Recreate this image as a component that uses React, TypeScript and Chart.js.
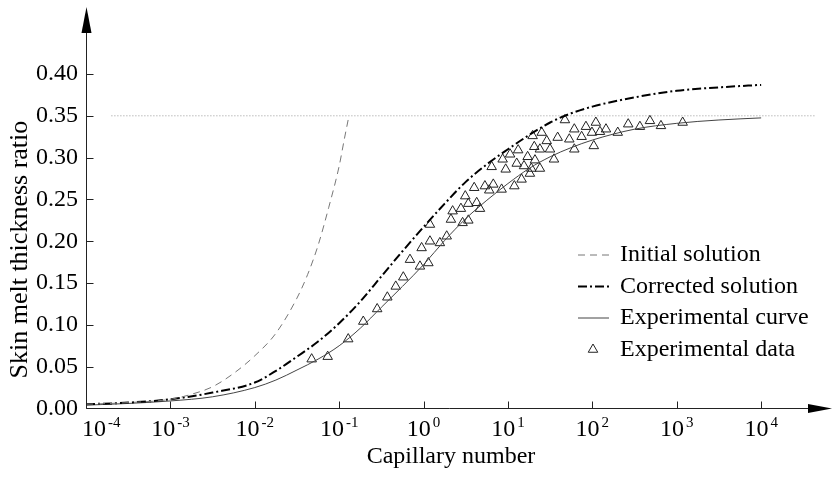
import React, { useEffect, useRef } from 'react';
import { Chart, registerables } from 'chart.js';

Chart.register(...registerables);

// ---------- data ----------
const xMin = 0.0001;
const xMax = 44668; // axis runs a little past 10^4 toward the arrow
const yMin = -0.02;
const yMax = 0.4;
const yTickValues = [0, 0.05, 0.1, 0.15, 0.2, 0.25, 0.3, 0.35, 0.4];
const xDecades = [-4, -3, -2, -1, 0, 1, 2, 3, 4];

const initialX = [0.0001, 0.000316, 0.001, 0.00178, 0.00316, 0.00562, 0.01, 0.0178, 0.0316, 0.0422, 0.0562, 0.075, 0.1, 0.115, 0.1306];
const initialY = [0.005, 0.007, 0.011, 0.017, 0.026, 0.042, 0.063, 0.090, 0.132, 0.160, 0.195, 0.240, 0.290, 0.322, 0.350];

const correctedX = [0.0001, 0.000316, 0.001, 0.00316, 0.01, 0.0178, 0.0316, 0.0562, 0.1, 0.178, 0.316, 0.562, 1, 1.78, 3.16, 5.62, 10, 17.8, 31.6, 56.2, 100, 316, 1000, 3162, 10000];
const correctedY = [0.005, 0.007, 0.011, 0.019, 0.031, 0.045, 0.062, 0.080, 0.102, 0.128, 0.158, 0.188, 0.217, 0.245, 0.271, 0.292, 0.310, 0.327, 0.342, 0.353, 0.361, 0.372, 0.380, 0.384, 0.387];

const expCurveX = [0.0001, 0.000316, 0.001, 0.00316, 0.01, 0.0178, 0.0316, 0.0562, 0.1, 0.178, 0.316, 0.562, 1, 1.78, 3.16, 5.62, 10, 17.8, 31.6, 56.2, 100, 316, 1000, 3162, 10000];
const expCurveY = [0.004, 0.006, 0.009, 0.014, 0.025, 0.034, 0.046, 0.059, 0.075, 0.096, 0.121, 0.146, 0.172, 0.201, 0.227, 0.249, 0.269, 0.287, 0.301, 0.312, 0.321, 0.334, 0.341, 0.345, 0.3475];

const dataX = [0.0472, 0.0731, 0.128, 0.193, 0.282, 0.372, 0.468, 0.575, 0.690, 1.14, 0.906, 0.948, 1.19, 1.56, 1.88, 1.19, 2.11, 2.90, 3.39, 2.21, 2.77, 3.39, 4.26, 4.66, 3.12, 3.98, 5.33, 6.70, 6.00, 8.41, 11.9, 14.5, 18.2, 6.41, 9.40, 8.65, 10.6, 13.2, 12.7, 15.5, 17.1, 18.9, 20.9, 23.9, 20.5, 23.9, 31.5, 35.1, 28.8, 19.6, 25.1, 38.8, 53.3, 61.1, 47.3, 61.1, 74.6, 83.9, 98.9, 110, 104, 123, 145, 200, 266, 366, 481, 650, 1175];
const dataY = [0.059, 0.062, 0.083, 0.104, 0.119, 0.133, 0.146, 0.157, 0.178, 0.174, 0.170, 0.192, 0.200, 0.198, 0.206, 0.220, 0.226, 0.222, 0.225, 0.236, 0.239, 0.245, 0.246, 0.239, 0.254, 0.264, 0.266, 0.268, 0.261, 0.262, 0.266, 0.274, 0.281, 0.289, 0.286, 0.298, 0.304, 0.309, 0.293, 0.290, 0.301, 0.287, 0.297, 0.287, 0.313, 0.310, 0.310, 0.298, 0.320, 0.326, 0.330, 0.324, 0.322, 0.310, 0.345, 0.334, 0.325, 0.337, 0.330, 0.342, 0.314, 0.331, 0.334, 0.330, 0.340, 0.337, 0.344, 0.338, 0.342];

const refLineX = [0.0002, 44668];
const refLineValue = 0.35;

const seriesNames = ['Initial solution', 'Corrected solution', 'Experimental curve', 'Experimental data'];

const pts = (xs: number[], ys: number[]) => xs.map((x, i) => ({ x, y: ys[i] }));

const FONT = "'Liberation Serif', 'Times New Roman', serif";

const decorPlugin = {
  id: 'decor',
  afterDraw(chart: any) {
    const { ctx, chartArea, scales } = chart;
    const xs = scales.x;
    const ys = scales.y;
    const x0 = Math.round(chartArea.left) + 0.5;
    const y0 = Math.round(ys.getPixelForValue(0)) + 0.5;
    ctx.save();
    ctx.strokeStyle = '#222';
    ctx.fillStyle = '#000';
    ctx.lineWidth = 1;
    ctx.setLineDash([]);
    // y axis + arrow
    ctx.beginPath();
    ctx.moveTo(x0, y0);
    ctx.lineTo(x0, 30);
    ctx.stroke();
    ctx.beginPath();
    ctx.moveTo(x0, 7);
    ctx.lineTo(x0 - 5, 33);
    ctx.lineTo(x0 + 5, 33);
    ctx.closePath();
    ctx.fill();
    // x axis + arrow
    ctx.beginPath();
    ctx.moveTo(x0, y0);
    ctx.lineTo(812, y0);
    ctx.stroke();
    ctx.beginPath();
    ctx.moveTo(832, y0);
    ctx.lineTo(808, y0 - 4.5);
    ctx.lineTo(808, y0 + 4.5);
    ctx.closePath();
    ctx.fill();
    // inward ticks
    ctx.beginPath();
    yTickValues.forEach((v) => {
      const py = Math.round(ys.getPixelForValue(v)) + 0.5;
      ctx.moveTo(x0, py);
      ctx.lineTo(x0 + 7, py);
    });
    xDecades.forEach((e) => {
      const px = Math.round(xs.getPixelForValue(Math.pow(10, e))) + 0.5;
      ctx.moveTo(px, y0);
      ctx.lineTo(px, y0 - 7);
    });
    ctx.stroke();
    // x tick labels 10^n
    ctx.textBaseline = 'alphabetic';
    ctx.textAlign = 'left';
    xDecades.forEach((e) => {
      const px = xs.getPixelForValue(Math.pow(10, e));
      const base = '10';
      const exp = e < 0 ? '-' + Math.abs(e) : String(e);
      ctx.font = `24px ${FONT}`;
      const wb = ctx.measureText(base).width;
      ctx.font = `15px ${FONT}`;
      const we = ctx.measureText(exp).width;
      const total = wb + 2 + we;
      let left = px - total / 2;
      if (left < chartArea.left - 4) left = chartArea.left - 4;
      ctx.font = `24px ${FONT}`;
      ctx.fillText(base, left, y0 + 27);
      ctx.font = `15px ${FONT}`;
      ctx.fillText(exp, left + wb + 2, y0 + 18);
    });
    // legend
    const ds = chart.data.datasets;
    const rowY0 = 255;
    const rowGap = 31.5;
    ctx.font = `24px ${FONT}`;
    ctx.textBaseline = 'middle';
    for (let i = 0; i < 4; i++) {
      const d = ds[i];
      const ry = rowY0 + i * rowGap;
      if (i < 3) {
        ctx.save();
        ctx.strokeStyle = d.borderColor;
        ctx.lineWidth = d.borderWidth;
        ctx.setLineDash(d.borderDash || []);
        ctx.beginPath();
        ctx.moveTo(578, ry);
        ctx.lineTo(609, ry);
        ctx.stroke();
        ctx.restore();
      } else {
        ctx.save();
        ctx.strokeStyle = d.borderColor;
        ctx.lineWidth = d.borderWidth;
        const r = d.pointRadius;
        ctx.beginPath();
        for (let k = 0; k < 3; k++) {
          const a = -Math.PI / 2 + (k * 2 * Math.PI) / 3;
          const px = 593 + Math.cos(a) * r;
          const py = ry + Math.sin(a) * r;
          if (k === 0) ctx.moveTo(px, py);
          else ctx.lineTo(px, py);
        }
        ctx.closePath();
        ctx.stroke();
        ctx.restore();
      }
      ctx.fillStyle = '#000';
      ctx.fillText(d.label, 620, ry);
    }
    ctx.restore();
  },
};

export default function App() {
  const ref = useRef<HTMLCanvasElement | null>(null);
  useEffect(() => {
    if (!ref.current) return;
    const chart = new Chart(ref.current, {
      type: 'scatter',
      data: {
        datasets: [
          {
            label: seriesNames[0],
            data: pts(initialX, initialY),
            showLine: true,
            borderColor: '#777',
            borderWidth: 1,
            borderDash: [7, 5],
            pointRadius: 0,
            cubicInterpolationMode: 'monotone',
          } as any,
          {
            label: seriesNames[1],
            data: pts(correctedX, correctedY),
            showLine: true,
            borderColor: '#000',
            borderWidth: 2,
            borderDash: [9, 3, 2, 3],
            pointRadius: 0,
            cubicInterpolationMode: 'monotone',
          } as any,
          {
            label: seriesNames[2],
            data: pts(expCurveX, expCurveY),
            showLine: true,
            borderColor: '#444',
            borderWidth: 1,
            pointRadius: 0,
            cubicInterpolationMode: 'monotone',
          } as any,
          {
            label: seriesNames[3],
            data: pts(dataX, dataY),
            showLine: false,
            pointStyle: 'triangle',
            pointRadius: 5.5,
            borderColor: '#222',
            borderWidth: 1,
            backgroundColor: 'rgba(255,255,255,0)',
          } as any,
          {
            label: 'ref',
            data: pts(refLineX, [refLineValue, refLineValue]),
            showLine: true,
            borderColor: '#999',
            borderWidth: 1,
            borderDash: [1, 2],
            pointRadius: 0,
          } as any,
        ],
      },
      options: {
        responsive: false,
        animation: false,
        devicePixelRatio: 1,
        layout: { padding: { top: 74, right: 17, left: 0, bottom: 0 } },
        plugins: { legend: { display: false }, tooltip: { enabled: false } },
        scales: {
          x: {
            type: 'logarithmic',
            min: xMin,
            max: xMax,
            grid: { display: false, drawTicks: false },
            border: { display: false },
            ticks: { display: false },
            afterFit: (s: any) => {
              s.height = 53.8;
            },
            title: {
              display: true,
              text: 'Capillary number',
              color: '#000',
              font: { family: FONT, size: 24 },
              padding: { top: 0, bottom: 8 },
            },
          },
          y: {
            type: 'linear',
            min: yMin,
            max: yMax,
            grid: { display: false, drawTicks: false },
            border: { display: false },
            afterBuildTicks: (s: any) => {
              s.ticks = yTickValues.map((v) => ({ value: v }));
            },
            afterFit: (s: any) => {
              s.width = 86;
            },
            ticks: {
              padding: 8,
              color: '#000',
              font: { family: FONT, size: 24 },
              callback: (v: any) => Number(v).toFixed(2),
            },
            title: {
              display: true,
              text: 'Skin melt thickness ratio',
              color: '#000',
              font: { family: FONT, size: 26 },
              padding: { top: 5, bottom: 0 },
            },
          },
        },
      } as any,
      plugins: [decorPlugin],
    });
    return () => chart.destroy();
  }, []);
  return (
    <div style={{ position: 'fixed', left: 0, top: 0, width: 833, height: 479, background: '#fff' }}>
      <canvas ref={ref} width={833} height={479} style={{ display: 'block' }} />
    </div>
  );
}
